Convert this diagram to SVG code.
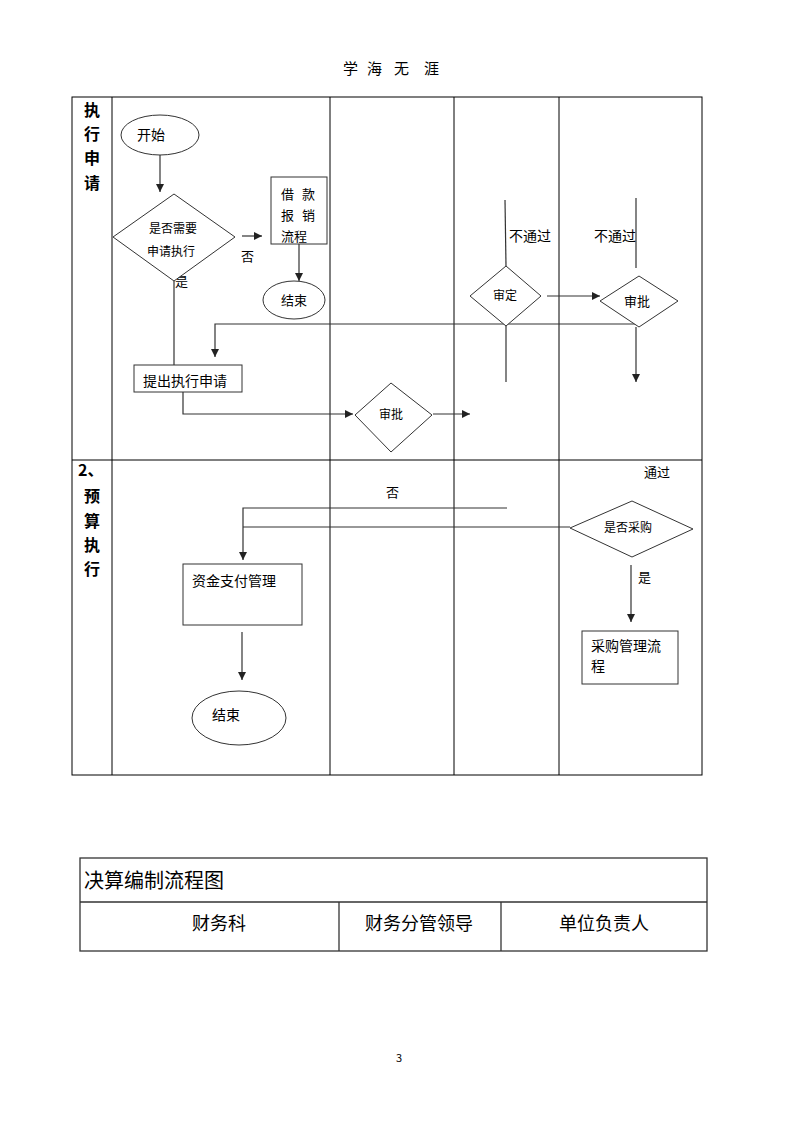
<svg xmlns="http://www.w3.org/2000/svg" width="800" height="1132" viewBox="0 0 800 1132">
<defs>
<style>
text{font-family:"Noto Sans CJK SC","Noto Sans",sans-serif;fill:#000}
.t13{font-size:13px}
.t12{font-size:12px}
.t14{font-size:14px}
.lab{font-size:16px;font-weight:bold}
.grid{stroke:#000;stroke-width:1;fill:none}
.shape{stroke:#333;stroke-width:1;fill:#fff}
.conn{stroke:#333;stroke-width:1.2;fill:none}
</style>
<marker id="ah" viewBox="0 0 10 10" refX="10" refY="5" markerWidth="8" markerHeight="8" markerUnits="userSpaceOnUse" orient="auto">
<path d="M0,0 L10,5 L0,10 z" fill="#222"/>
</marker>
</defs>
<rect width="800" height="1132" fill="#fff"/>
<g id="header" font-size="15">
<text x="343" y="74">学</text>
<text x="367" y="74">海</text>
<text x="394" y="74">无</text>
<text x="424" y="74">涯</text>
</g>

<g id="swimlanes">
<rect class="grid" x="72" y="97" width="630" height="678"/>
<line class="grid" x1="112" y1="97" x2="112" y2="775"/>
<line class="grid" x1="330" y1="97" x2="330" y2="775"/>
<line class="grid" x1="454" y1="97" x2="454" y2="775"/>
<line class="grid" x1="559" y1="97" x2="559" y2="775"/>
<line class="grid" x1="72" y1="460" x2="702" y2="460"/>
<text class="lab" x="92" y="116" text-anchor="middle">执</text>
<text class="lab" x="92" y="140" text-anchor="middle">行</text>
<text class="lab" x="92" y="164" text-anchor="middle">申</text>
<text class="lab" x="92" y="189" text-anchor="middle">请</text>
<text class="lab" x="78" y="476">2、</text>
<text class="lab" x="92" y="502" text-anchor="middle">预</text>
<text class="lab" x="92" y="527" text-anchor="middle">算</text>
<text class="lab" x="92" y="551" text-anchor="middle">执</text>
<text class="lab" x="92" y="575" text-anchor="middle">行</text>
</g>

<g id="connectors">
<line class="conn" x1="160" y1="155" x2="160" y2="192" marker-end="url(#ah)"/>
<line class="conn" x1="242" y1="236" x2="262" y2="236" marker-end="url(#ah)"/>
<line class="conn" x1="299" y1="244" x2="299" y2="281" marker-end="url(#ah)"/>
<line class="conn" x1="174" y1="281" x2="174" y2="365"/>
<polyline class="conn" points="183,392 183,414 353,414" marker-end="url(#ah)"/>
<polyline class="conn" points="636,324 215,324 215,357" marker-end="url(#ah)"/>
<line class="conn" x1="433" y1="414" x2="470" y2="414" marker-end="url(#ah)"/>
<line class="conn" x1="505" y1="200" x2="506" y2="266"/>
<line class="conn" x1="506" y1="326" x2="506" y2="382"/>
<line class="conn" x1="547" y1="296" x2="600" y2="296" marker-end="url(#ah)"/>
<line class="conn" x1="636" y1="198" x2="636" y2="268"/>
<line class="conn" x1="636" y1="327" x2="636" y2="382" marker-end="url(#ah)"/>
<polyline class="conn" points="507,508 243,508 243,560" marker-end="url(#ah)"/>
<line class="conn" x1="570" y1="527" x2="243" y2="527"/>
<line class="conn" x1="631" y1="565" x2="631" y2="622" marker-end="url(#ah)"/>
<line class="conn" x1="242" y1="632" x2="242" y2="680" marker-end="url(#ah)"/>
<text class="t13" x="241" y="261">否</text>
<text class="t13" x="175" y="286">是</text>
<text class="t14" x="509" y="241">不通过</text>
<text class="t14" x="594" y="241">不通过</text>
<text class="t13" x="386" y="497">否</text>
<text class="t13" x="644" y="477">通过</text>
<text class="t13" x="638" y="582">是</text>
</g>

<g id="start">
<ellipse class="shape" cx="160" cy="135" rx="39" ry="20"/>
<text class="t14" x="137" y="140">开始</text>
</g>
<g id="decision-apply">
<polygon class="shape" points="113,237 174,194 235,237 174,281"/>
<text class="t12" x="173" y="233" text-anchor="middle">是否需要</text>
<text class="t12" x="171" y="256" text-anchor="middle">申请执行</text>
</g>
<g id="loan-box">
<rect class="shape" x="271" y="177" width="56" height="67"/>
<text class="t13" x="281" y="199">借</text>
<text class="t13" x="302" y="199">款</text>
<text class="t13" x="281" y="220">报</text>
<text class="t13" x="302" y="220">销</text>
<text class="t13" x="281" y="241">流程</text>
</g>
<g id="end1">
<ellipse class="shape" cx="294" cy="300" rx="31" ry="19"/>
<text class="t13" x="294" y="305" text-anchor="middle">结束</text>
</g>
<g id="submit">
<rect class="shape" x="134" y="365" width="108" height="27"/>
<text class="t14" x="143" y="386">提出执行申请</text>
</g>
<g id="approve-low">
<polygon class="shape" points="355,415 391,383 432,415 391,452"/>
<text class="t12" x="391" y="419" text-anchor="middle">审批</text>
</g>
<g id="review">
<polygon class="shape" points="470,296 506,266 541,296 506,326"/>
<text class="t12" x="505" y="300" text-anchor="middle">审定</text>
</g>
<g id="approve-high">
<polygon class="shape" points="600,301 639,276 678,301 639,327"/>
<text class="t13" x="637" y="306" text-anchor="middle">审批</text>
</g>
<g id="decision-purchase">
<polygon class="shape" points="570,528 632,501 693,529 632,557"/>
<text class="t12" x="628" y="532" text-anchor="middle">是否采购</text>
</g>
<g id="purchase-box">
<rect class="shape" x="582" y="631" width="96" height="53"/>
<text class="t14" x="591" y="651">采购管理流</text>
<text class="t14" x="591" y="671">程</text>
</g>
<g id="payment-box">
<rect class="shape" x="183" y="564" width="119" height="61"/>
<text class="t14" x="192" y="586">资金支付管理</text>
</g>
<g id="end2">
<ellipse class="shape" cx="239" cy="718" rx="47" ry="27"/>
<text class="t14" x="212" y="720">结束</text>
</g>

<g id="final-table">
<rect x="80" y="858" width="627" height="93" fill="none" stroke="#333" stroke-width="1.3"/>
<line x1="80" y1="902" x2="707" y2="902" stroke="#333" stroke-width="1.3"/>
<line x1="339" y1="902" x2="339" y2="951" stroke="#333" stroke-width="1.3"/>
<line x1="501" y1="902" x2="501" y2="951" stroke="#333" stroke-width="1.3"/>
<text x="84" y="888" font-size="20">决算编制流程图</text>
<text x="219" y="930" font-size="18" text-anchor="middle">财务科</text>
<text x="419" y="930" font-size="18" text-anchor="middle">财务分管领导</text>
<text x="604" y="930" font-size="18" text-anchor="middle">单位负责人</text>
</g>
<text x="399" y="1062" font-size="11" text-anchor="middle" font-family="Liberation Sans, sans-serif">3</text>
</svg>
